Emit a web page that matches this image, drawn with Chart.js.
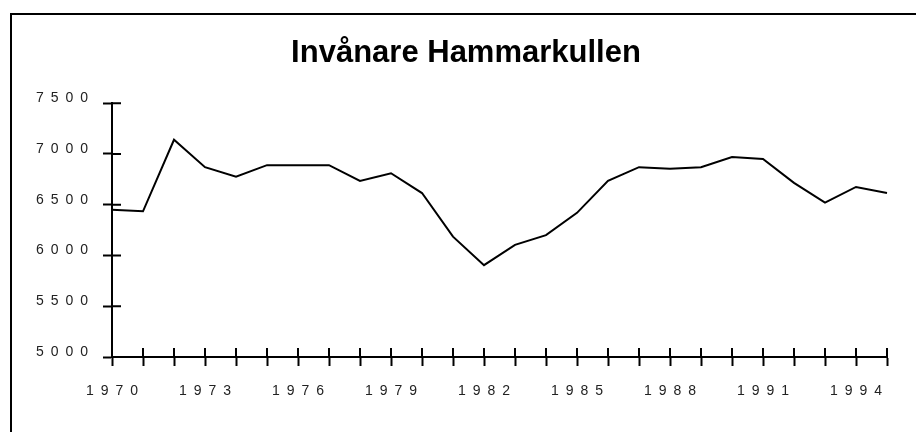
<!DOCTYPE html>
<html>
<head>
<meta charset="utf-8">
<script src="https://cdn.jsdelivr.net/npm/chart.js@4"></script>
<style>
    html, body { margin: 0; padding: 0; background: #fff; overflow: hidden; }
    #wrap { position: relative; width: 916px; height: 432px; }
    #frame {
        position: absolute; left: 10px; top: 13px; width: 1000px; height: 1000px;
        border-left: 2px solid #000; border-top: 2px solid #000; pointer-events: none;
    }
</style>
</head>
<body>
<div id="wrap">
    <canvas id="chart"></canvas>
    <div id="frame"></div>
</div>
<script>
// Chart data
const years = [
    '1970', '1971', '1972', '1973', '1974', '1975', '1976', '1977', '1978',
    '1979', '1980', '1981', '1982', '1983', '1984', '1985', '1986', '1987',
    '1988', '1989', '1990', '1991', '1992', '1993', '1994', '1995'
];
const residents = [
    6450, 6435, 7140, 6870, 6775, 6890, 6890, 6890, 6735,
    6810, 6615, 6185, 5905, 6105, 6200, 6420, 6735, 6870,
    6855, 6870, 6970, 6950, 6715, 6520, 6675, 6615
];
const yMin = 5000;
const yMax = 7500;
const yStep = 500;
const labelEvery = 3;

const TICK_LEN = 9;
const LETTER_SPACING = '7px';

// Spread the digits of the tick labels
const spacedTicks = {
    id: 'spacedTicks',
    beforeDraw(chart) {
        Object.values(chart.scales).forEach(scale => {
            if (scale._spaced) return;
            const orig = scale.drawLabels;
            scale.drawLabels = function(area) {
                const ctx = this.ctx;
                ctx.save();
                ctx.letterSpacing = LETTER_SPACING;
                orig.call(this, area);
                ctx.restore();
            };
            scale._spaced = true;
        });
    },
    // title sits a little right of the plot centre in the original
    afterLayout(chart) {
        if (chart.titleBlock) chart.titleBlock.left += 9;
    }
};

// Tick marks cross the axis: draw the inner half
const crossTicks = {
    id: 'crossTicks',
    beforeDatasetsDraw(chart) {
        const ctx = chart.ctx;
        const area = chart.chartArea;
        const xs = chart.scales.x;
        const ys = chart.scales.y;
        ctx.save();
        ctx.strokeStyle = '#000';
        ctx.lineWidth = 2;
        ctx.beginPath();
        ys.ticks.forEach((t, i) => {
            const y = ys.getPixelForTick(i);
            ctx.moveTo(area.left, y);
            ctx.lineTo(area.left + TICK_LEN, y);
        });
        xs.ticks.forEach((t, i) => {
            const x = xs.getPixelForTick(i);
            ctx.moveTo(x, area.bottom);
            ctx.lineTo(x, area.bottom - TICK_LEN);
        });
        ctx.stroke();
        ctx.restore();
    }
};

const tickFont = { family: "'Liberation Sans', Arial, sans-serif", size: 14 };

new Chart(document.getElementById('chart'), {
    type: 'line',
    data: {
        labels: years,
        datasets: [{
            data: residents,
            borderColor: '#000',
            borderWidth: 2,
            pointRadius: 0,
            tension: 0,
            fill: false
        }]
    },
    options: {
        responsive: true,
        maintainAspectRatio: false,
        animation: false,
        layout: { padding: { left: 36, right: 29, top: 35, bottom: 25 } },
        plugins: {
            legend: { display: false },
            tooltip: { enabled: false },
            title: {
                display: true,
                text: 'Invånare Hammarkullen',
                color: '#000',
                font: { family: "'Liberation Sans', Arial, sans-serif", size: 31, weight: 'bold' },
                padding: { top: 0, bottom: 31 }
            }
        },
        scales: {
            x: {
                grid: {
                    drawOnChartArea: false,
                    tickLength: TICK_LEN,
                    tickColor: '#000',
                    tickWidth: 2
                },
                border: { color: '#000', width: 2 },
                ticks: {
                    autoSkip: false,
                    maxRotation: 0,
                    color: '#222',
                    font: tickFont,
                    padding: 17,
                    labelOffset: 3.5,
                    callback: function(value, index) {
                        return index % labelEvery === 0 ? this.getLabelForValue(value) : '';
                    }
                },
                afterFit: scale => { scale.height = 50; }
            },
            y: {
                min: yMin,
                max: yMax,
                grid: {
                    drawOnChartArea: false,
                    tickLength: TICK_LEN,
                    tickColor: '#000',
                    tickWidth: 2
                },
                border: { color: '#000', width: 2 },
                ticks: {
                    stepSize: yStep,
                    color: '#222',
                    font: tickFont,
                    crossAlign: 'far',
                    padding: 8,
                    labelOffset: -5,
                    callback: value => String(value)
                },
                afterFit: scale => { scale.width = 76; }
            }
        }
    },
    plugins: [spacedTicks, crossTicks]
});
</script>
</body>
</html>
